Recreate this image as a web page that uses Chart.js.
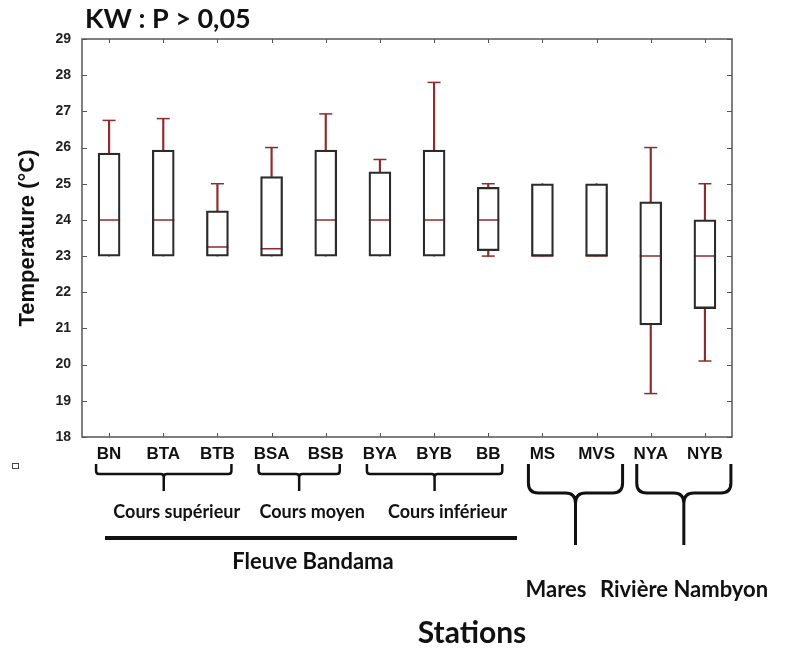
<!DOCTYPE html>
<html lang="fr">
<head>
    <meta charset="UTF-8" />
    <title>Temperature par station</title>
    <script src="https://cdn.jsdelivr.net/npm/chart.js"></script>
    <style>
        html, body { margin: 0; padding: 0; background: #fff; }
        #wrap { width: 792px; height: 648px; position: relative; }
    </style>
</head>
<body>
    <div id="wrap"><canvas id="chart"></canvas></div>

    <script>
        // Stations and temperature summaries (°C)
        const stations = ["BN", "BTA", "BTB", "BSA", "BSB", "BYA", "BYB", "BB", "MS", "MVS", "NYA", "NYB"];
        const whiskerLow  = [23, 23, 23, 23, 23, 23, 23, 23, 23, 23, 19.2, 20.1];
        const boxLow      = [23, 23, 23, 23, 23, 23, 23, 23.15, 23, 23, 21.1, 21.55];
        const medians     = [24, 24, 23.25, 23.2, 24, 24, 24, 24, 23, 23, 23, 23];
        const boxHigh     = [25.85, 25.93, 24.25, 25.2, 25.93, 25.33, 25.93, 24.9, 25, 25, 24.5, 24];
        const whiskerHigh = [26.75, 26.8, 25, 26, 26.93, 25.67, 27.8, 25, 25, 25, 26, 25];
        const yTicks = { min: 18, max: 29, step: 1 };

        // group annotations under the axis: [first station, last station, label]
        const subGroups = [["BN", "BTB", "Cours supérieur"], ["BSA", "BSB", "Cours moyen"], ["BYA", "BB", "Cours inférieur"]];
        const bigGroups = [["MS", "MVS", "Mares"], ["NYA", "NYB", "Rivière Nambyon"]];

        const RED = "#8e2b2b";
        const BOX = "#2b2b2b";

        const upperCaps = whiskerHigh.map((v, i) => (v > boxHigh[i] ? v : null));
        const lowerCaps = whiskerLow.map((v, i) => (v < boxLow[i] ? v : null));

        function brace(ctx, x1, x2, top, bar, tip, xm, r) {
            ctx.beginPath();
            ctx.moveTo(x1, top);
            ctx.lineTo(x1, bar - r);
            ctx.quadraticCurveTo(x1, bar, x1 + r, bar);
            ctx.lineTo(xm - r, bar);
            ctx.quadraticCurveTo(xm, bar, xm, bar + r);
            ctx.lineTo(xm, tip);
            ctx.moveTo(xm, bar + r);
            ctx.quadraticCurveTo(xm, bar, xm + r, bar);
            ctx.lineTo(x2 - r, bar);
            ctx.quadraticCurveTo(x2, bar, x2, bar - r);
            ctx.lineTo(x2, top);
            ctx.stroke();
        }

        const framePlugin = {
            id: "frame",
            afterDraw(chart) {
                const { ctx, chartArea: a, scales } = chart;
                const x = scales.x, y = scales.y;
                ctx.save();

                // frame and inward ticks
                ctx.strokeStyle = "#555";
                ctx.lineWidth = 1.5;
                ctx.strokeRect(a.left, a.top, a.right - a.left, a.bottom - a.top);
                ctx.lineWidth = 1;
                ctx.beginPath();
                y.ticks.forEach(t => {
                    const py = Math.round(y.getPixelForValue(t.value)) + 0.5;
                    ctx.moveTo(a.left, py); ctx.lineTo(a.left + 5, py);
                    ctx.moveTo(a.right, py); ctx.lineTo(a.right - 5, py);
                });
                stations.forEach((s, i) => {
                    const px = Math.round(x.getPixelForValue(i)) + 0.5;
                    ctx.moveTo(px, a.top); ctx.lineTo(px, a.top + 4);
                    ctx.moveTo(px, a.bottom); ctx.lineTo(px, a.bottom - 4);
                });
                ctx.stroke();

                // title
                ctx.fillStyle = "#111";
                ctx.font = "bold 27px Lato";
                ctx.textBaseline = "alphabetic";
                ctx.textAlign = "left";
                ctx.fillText("KW : P > 0,05", 85, 28);

                // small marker at left
                ctx.strokeStyle = "#444";
                ctx.lineWidth = 1;
                ctx.strokeRect(12.5, 463.5, 6, 5);

                // sub-group braces
                ctx.textBaseline = "middle";
                ctx.strokeStyle = "#111";
                ctx.lineWidth = 2.5;
                ctx.textAlign = "center";
                ctx.font = "bold 18px Lato";
                subGroups.forEach(([s1, s2, label]) => {
                    const x1 = x.getPixelForValue(stations.indexOf(s1)) - 13;
                    const x2 = x.getPixelForValue(stations.indexOf(s2)) + 14;
                    const xm = (x1 + x2) / 2;
                    brace(ctx, x1, x2, 464, 474, 491, xm, 3);
                    ctx.fillText(label, xm + 13, 512);
                });

                // river line
                ctx.lineWidth = 4;
                ctx.beginPath();
                ctx.moveTo(105, 538);
                ctx.lineTo(517, 538);
                ctx.stroke();
                ctx.font = "bold 22px Lato";
                ctx.fillText("Fleuve Bandama", 313, 562);

                // large braces
                ctx.lineWidth = 3;
                bigGroups.forEach(([s1, s2, label], k) => {
                    const x1 = x.getPixelForValue(stations.indexOf(s1)) - 14;
                    const x2 = x.getPixelForValue(stations.indexOf(s2)) + 26;
                    const xm = (x1 + x2) / 2;
                    brace(ctx, x1, x2, 464, 493, 545, xm, 10);
                    ctx.fillText(label, k === 0 ? 556 : 684, 590);
                });

                ctx.font = "bold 30px Lato";
                ctx.fillText("Stations", 472, 633);
                ctx.restore();
            }
        };

        new Chart(document.getElementById("chart"), {
            type: "bar",
            data: {
                labels: stations,
                datasets: [
                    {
                        label: "Moustache haute",
                        data: stations.map((s, i) => [boxHigh[i], whiskerHigh[i]]),
                        backgroundColor: RED,
                        barThickness: 1.5,
                        grouped: false,
                        order: 4
                    },
                    {
                        label: "Moustache basse",
                        data: stations.map((s, i) => [whiskerLow[i], boxLow[i]]),
                        backgroundColor: RED,
                        barThickness: 1.5,
                        grouped: false,
                        order: 4
                    },
                    {
                        type: "line",
                        label: "Médiane",
                        data: medians,
                        showLine: false,
                        pointStyle: "line",
                        pointRadius: 11,
                        pointBorderColor: RED,
                        pointBorderWidth: 1.5,
                        order: 3
                    },
                    {
                        label: "Boîte",
                        data: stations.map((s, i) => [boxLow[i], boxHigh[i]]),
                        backgroundColor: "rgba(0,0,0,0)",
                        borderColor: BOX,
                        borderWidth: 1.6,
                        borderSkipped: false,
                        barThickness: 22,
                        grouped: false,
                        order: 1
                    },
                    {
                        type: "line",
                        label: "Max",
                        data: upperCaps,
                        showLine: false,
                        pointStyle: "line",
                        pointRadius: 6.5,
                        pointBorderColor: RED,
                        pointBorderWidth: 1.5,
                        order: 0
                    },
                    {
                        type: "line",
                        label: "Min",
                        data: lowerCaps,
                        showLine: false,
                        pointStyle: "line",
                        pointRadius: 6.5,
                        pointBorderColor: RED,
                        pointBorderWidth: 1.5,
                        order: 0
                    }
                ]
            },
            options: {
                responsive: true,
                maintainAspectRatio: false,
                animation: false,
                layout: { padding: { top: 39, right: 60, left: 0, bottom: 0 } },
                plugins: {
                    legend: { display: false },
                    tooltip: { enabled: false }
                },
                scales: {
                    x: {
                        offset: true,
                        grid: { display: false, drawTicks: false },
                        border: { display: false },
                        ticks: {
                            color: "#111",
                            padding: 7,
                            font: { family: "Liberation Sans", size: 17, weight: "bold" }
                        },
                        afterFit: s => { s.height = 211; }
                    },
                    y: {
                        min: yTicks.min,
                        max: yTicks.max,
                        grid: { display: false, drawTicks: false },
                        border: { display: false },
                        ticks: {
                            stepSize: yTicks.step,
                            color: "#222",
                            padding: 11,
                            font: { family: "Liberation Sans", size: 14, weight: "bold" }
                        },
                        title: {
                            display: true,
                            text: "Temperature (°C)",
                            color: "#111",
                            padding: { top: 15, bottom: 0 },
                            font: { family: "Liberation Sans", size: 22, weight: "bold" }
                        },
                        afterFit: s => { s.width = 82; }
                    }
                }
            },
            plugins: [framePlugin]
        });
    </script>
</body>
</html>
